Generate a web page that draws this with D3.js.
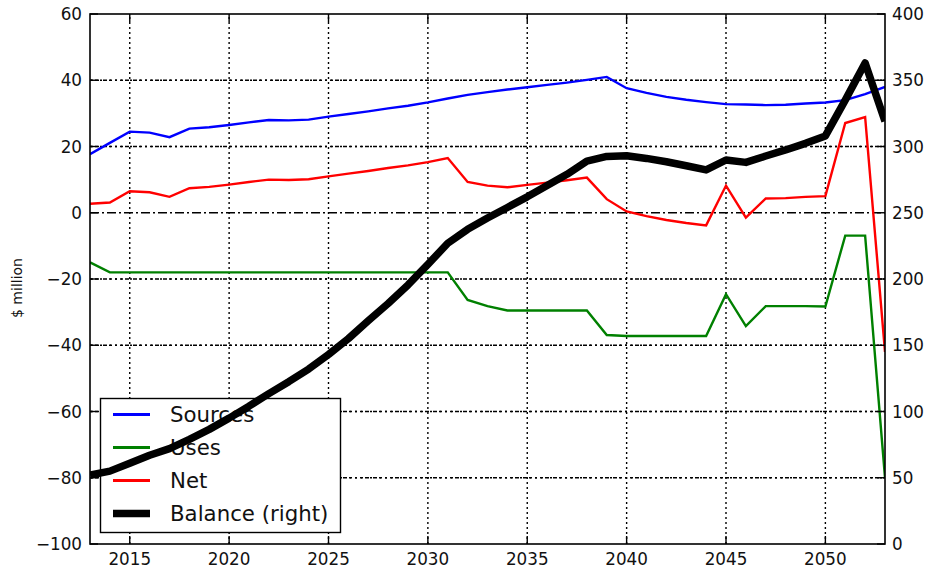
<!DOCTYPE html>
<html>
<head>
<meta charset="utf-8">
<script src="https://cdn.jsdelivr.net/npm/d3@7"></script>
<style>
  html, body { margin: 0; padding: 0; background: #fff; }
  svg { display: block; }
  text { font-family: "DejaVu Sans", sans-serif; fill: #111; }
</style>
</head>
<body>
<svg id="chart" width="929" height="571"></svg>
<script>
const years = d3.range(2013, 2054);
const sources = [17.7, 21.1, 24.5, 24.2, 22.8, 25.4, 25.8, 26.5, 27.3, 28.0, 27.9, 28.1, 29.0, 29.8, 30.6, 31.5, 32.3, 33.3, 34.5, 35.6, 36.4, 37.2, 37.9, 38.6, 39.3, 40.1, 41.0, 37.6, 36.2, 35.0, 34.1, 33.4, 32.8, 32.7, 32.5, 32.6, 33.0, 33.3, 34.0, 35.8, 38.0];
const uses = [-15.0, -18.0, -18.0, -18.0, -18.0, -18.0, -18.0, -18.0, -18.0, -18.0, -18.0, -18.0, -18.0, -18.0, -18.0, -18.0, -18.0, -18.0, -18.0, -26.3, -28.2, -29.5, -29.5, -29.5, -29.5, -29.5, -36.9, -37.2, -37.2, -37.2, -37.2, -37.2, -24.6, -34.2, -28.2, -28.2, -28.2, -28.3, -6.9, -6.9, -80.0];
const net = [2.7, 3.1, 6.5, 6.2, 4.8, 7.4, 7.8, 8.5, 9.3, 10.0, 9.9, 10.1, 11.0, 11.8, 12.6, 13.5, 14.3, 15.3, 16.5, 9.3, 8.2, 7.7, 8.4, 9.1, 9.8, 10.6, 4.1, 0.4, -1.0, -2.2, -3.1, -3.8, 8.2, -1.5, 4.3, 4.4, 4.8, 5.0, 27.1, 28.9, -42.0];
const balance = [52, 55, 61, 67, 72, 79, 86.5, 95, 104, 113.5, 122.5, 132, 143, 155, 168.5, 181.5, 195.5, 211, 227, 237.5, 246, 254, 262, 270.5, 279, 289, 292.5, 293, 291, 288.5, 285.5, 282.3, 289.8, 288, 292.8, 297.4, 302.4, 308, 335, 363, 319];

const xTicks = [2015, 2020, 2025, 2030, 2035, 2040, 2045, 2050];
const yLeftTicks = [-100, -80, -60, -40, -20, 0, 20, 40, 60];
const yRightTicks = [0, 50, 100, 150, 200, 250, 300, 350, 400];
const legendLabels = ["Sources", "Uses", "Net", "Balance (right)"];

const L = 90, R = 885, T = 14, B = 544;
const svg = d3.select("#chart");
const x = d3.scaleLinear().domain([2013, 2053]).range([L, R]);
const yL = d3.scaleLinear().domain([-100, 60]).range([B, T]);
const yR = d3.scaleLinear().domain([0, 400]).range([B, T]);

svg.append("defs").append("clipPath").attr("id", "plotclip")
  .append("rect").attr("x", L).attr("y", T).attr("width", R - L).attr("height", B - T);

// grid
const grid = svg.append("g");
xTicks.forEach(t => {
  grid.append("line").attr("x1", x(t)).attr("x2", x(t)).attr("y1", B).attr("y2", T)
    .attr("stroke", "#000").attr("stroke-width", 1.4).attr("stroke-dasharray", "2,3");
});
yLeftTicks.forEach(t => {
  if (t === 0 || t === -100 || t === 60) return;
  grid.append("line").attr("x1", L).attr("x2", R).attr("y1", yL(t)).attr("y2", yL(t))
    .attr("stroke", "#000").attr("stroke-width", 1.4).attr("stroke-dasharray", "2,3");
});
yRightTicks.forEach(t => {
  if (t === 250 || t === 0 || t === 400) return;
  grid.append("line").attr("x1", R).attr("x2", L).attr("y1", yR(t)).attr("y2", yR(t))
    .attr("stroke", "#000").attr("stroke-width", 1.4).attr("stroke-dasharray", "2,4");
});
// zero line
grid.append("line").attr("x1", L).attr("x2", R).attr("y1", yL(0)).attr("y2", yL(0))
  .attr("stroke", "#000").attr("stroke-width", 1.6).attr("stroke-dasharray", "9,3,2,3");

const plot = svg.append("g").attr("clip-path", "url(#plotclip)");
const lineL = d3.line().x((d, i) => x(years[i])).y(d => yL(d));
const lineR = d3.line().x((d, i) => x(years[i])).y(d => yR(d));

plot.append("path").datum(sources).attr("d", lineL).attr("fill", "none")
  .attr("stroke", "#0000ff").attr("stroke-width", 2.4);
plot.append("path").datum(uses).attr("d", lineL).attr("fill", "none")
  .attr("stroke", "#008000").attr("stroke-width", 2.4);
plot.append("path").datum(net).attr("d", lineL).attr("fill", "none")
  .attr("stroke", "#ff0000").attr("stroke-width", 2.4);

// legend
const leg = svg.append("g");
leg.append("rect").attr("x", 100.5).attr("y", 398.5).attr("width", 240).attr("height", 134)
  .attr("fill", "#fff").attr("stroke", "#000").attr("stroke-width", 1.4);
const legColors = ["#0000ff", "#008000", "#ff0000", "#000"];
const legW = [3, 3, 3, 7.5];
const legY = [414.5, 447.5, 480.5, 513.5];
legendLabels.forEach((lab, i) => {
  leg.append("line").attr("x1", 113).attr("x2", 150).attr("y1", legY[i]).attr("y2", legY[i])
    .attr("stroke", legColors[i]).attr("stroke-width", legW[i]);
  leg.append("text").attr("x", 170).attr("y", legY[i]).attr("dy", "0.36em")
    .attr("font-size", "21.3px").text(lab);
});

// balance on right axis, drawn on top
const plot2 = svg.append("g").attr("clip-path", "url(#plotclip)");
plot2.append("path").datum(balance).attr("d", lineR).attr("fill", "none")
  .attr("stroke", "#000").attr("stroke-width", 7.5).attr("stroke-linejoin", "round");

// frame
svg.append("rect").attr("x", L).attr("y", T).attr("width", R - L).attr("height", B - T)
  .attr("fill", "none").attr("stroke", "#000").attr("stroke-width", 1.6);

// ticks (inward)
const tk = svg.append("g").attr("stroke", "#000").attr("stroke-width", 1.4);
xTicks.forEach(t => {
  tk.append("line").attr("x1", x(t)).attr("x2", x(t)).attr("y1", B).attr("y2", B - 8);
  tk.append("line").attr("x1", x(t)).attr("x2", x(t)).attr("y1", T).attr("y2", T + 8);
});
yLeftTicks.forEach(t => {
  tk.append("line").attr("x1", L).attr("x2", L + 8).attr("y1", yL(t)).attr("y2", yL(t));
});
yRightTicks.forEach(t => {
  tk.append("line").attr("x1", R).attr("x2", R - 8).attr("y1", yR(t)).attr("y2", yR(t));
});

// tick labels
const fmt = v => (v < 0 ? "\u2212" + Math.abs(v) : String(v));
const lab = svg.append("g").attr("font-size", "16.8px");
xTicks.forEach(t => {
  lab.append("text").attr("x", x(t)).attr("y", 553).attr("dy", "0.72em")
    .attr("text-anchor", "middle").text(t);
});
yLeftTicks.forEach(t => {
  lab.append("text").attr("x", 82).attr("y", yL(t)).attr("dy", "0.36em")
    .attr("text-anchor", "end").text(fmt(t));
});
yRightTicks.forEach(t => {
  lab.append("text").attr("x", 892).attr("y", yR(t)).attr("dy", "0.36em")
    .attr("text-anchor", "start").text(t);
});

svg.append("text").attr("transform", "translate(22,288) rotate(-90)")
  .attr("text-anchor", "middle").attr("font-size", "14px").text("$ million");
</script>
</body>
</html>
